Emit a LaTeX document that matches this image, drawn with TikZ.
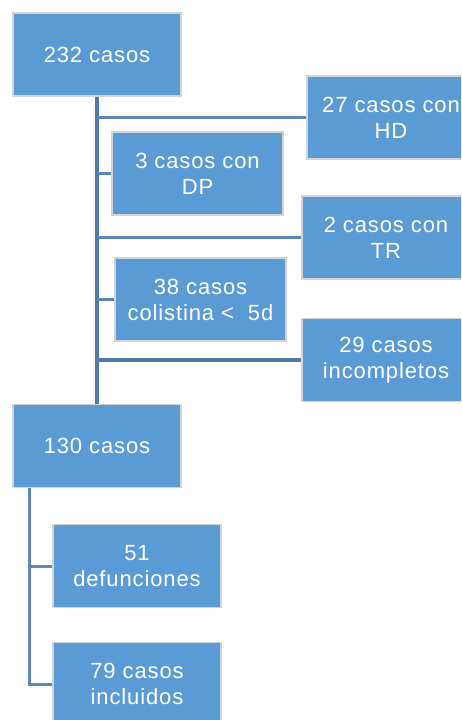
\documentclass[tikz,border=0pt]{standalone}
\usepackage{fontspec}
\setmainfont{Liberation Sans}[LetterSpace=4]
\usetikzlibrary{positioning}
\definecolor{boxblue}{HTML}{5B9BD5}
\definecolor{linkblue}{HTML}{5E89B4}
\definecolor{trunkblue}{HTML}{4F7BA8}
\definecolor{rimgray}{HTML}{D4D4D4}
\tikzset{
  casebox/.style={rectangle, fill=boxblue, draw=rimgray, line width=1.5pt,
    text=white, align=center, minimum width=168pt, minimum height=83pt,
    inner sep=2pt, font=\fontsize{22}{26}\selectfont},
  link/.style={draw=linkblue, line width=3pt},
  trunk/.style={draw=trunkblue, line width=3.5pt}
}

\begin{document}
\begin{tikzpicture}[x=1pt,y=-1pt]
\clip (0,0) rectangle (461,720);
\fill[white] (0,0) rectangle (461,720);

\node[casebox] (total) at (97,54.5) {232 casos}; %%Top
\node[casebox] (hd) at (391,117.5) {27 casos con\\HD};
\node[casebox, minimum width=171pt] (dp) at (197.5,173.5) {3 casos con\\DP};
\node[casebox] (tr) at (386,237.5) {2 casos con\\TR};
\node[casebox, minimum width=171pt] (colis) at (200.5,299.5) {38 casos\\colistina <\ \ 5d};
\node[casebox] (incomp) at (386,360) {29 casos\\incompletos};
\node[casebox] (rest) at (97,446) {130 casos}; %%Middle
\node[casebox] (death) at (137,566) {51\\defunciones};
\node[casebox] (incl) at (137,684) {79 casos\\incluidos}; %%Bottom

%%Upper trunk
\draw[trunk] (total.south) -- (rest.north);
\draw[link] (total.south |- hd.west) -- (hd.west);
\draw[link] (total.south |- dp.west) -- (dp.west);
\draw[link] (total.south |- tr.west) -- (tr.west);
\draw[link] (total.south |- colis.west) -- (colis.west);
\draw[trunk] (total.south |- incomp.west) -- (incomp.west);

%%Lower trunk
\coordinate (fork) at ([xshift=17pt]rest.south west);
\draw[link] (fork) -- (fork |- incl.west) -- (incl.west);
\draw[link] (fork |- death.west) -- (death.west);

\end{tikzpicture}
\end{document}
